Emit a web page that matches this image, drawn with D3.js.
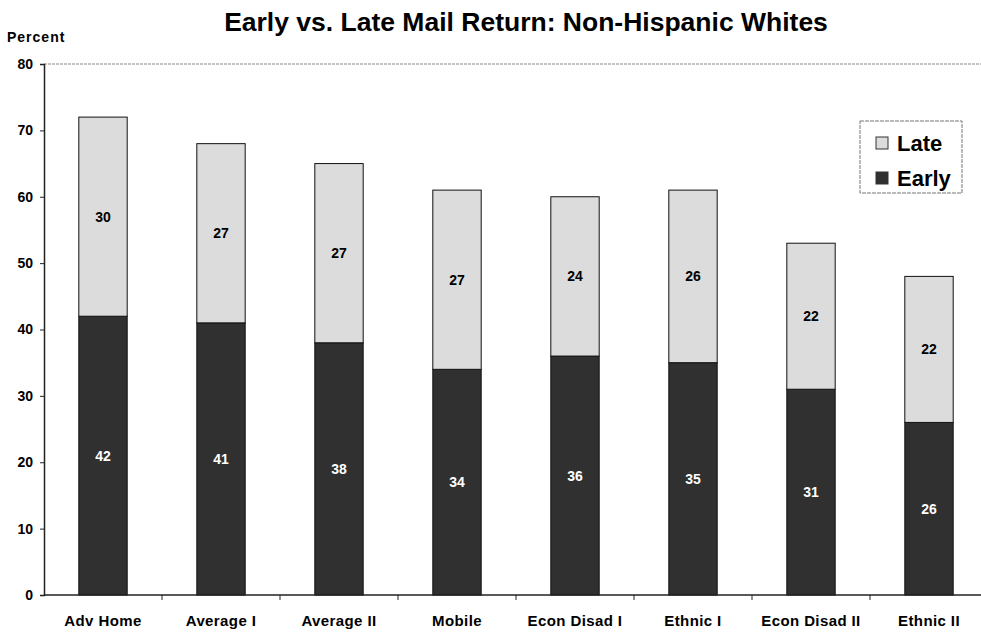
<!DOCTYPE html>
<html>
<head>
<meta charset="utf-8">
<script src="https://cdn.jsdelivr.net/npm/d3@7"></script>
<style>
  html, body { margin: 0; padding: 0; background: #fff; }
  svg { display: block; font-family: "Liberation Sans", Arial, sans-serif; }
</style>
</head>
<body>
<svg id="chart" width="981" height="634"></svg>
<script>
// Mail return rates (percent) by tract group
const categories = ["Adv Home", "Average I", "Average II", "Mobile", "Econ Disad I", "Ethnic I", "Econ Disad II", "Ethnic II"];
const early = [42, 41, 38, 34, 36, 35, 31, 26];
const late  = [30, 27, 27, 27, 24, 26, 22, 22];
const yTicks = [0, 10, 20, 30, 40, 50, 60, 70, 80];
const seriesNames = ["Early", "Late"];

const svg = d3.select("#chart");
const margin = { left: 44, top: 64, bottom: 595 };
const bandW = 118;

const x = d3.scaleBand()
  .domain(categories)
  .range([margin.left, margin.left + bandW * categories.length])
  .paddingInner(0.59)
  .paddingOuter(0.295);

const y = d3.scaleLinear().domain([0, 80]).range([margin.bottom, margin.top]);

const colors = { Early: "#303030", Late: "#dcdcdc" };

// Plot-area top border
svg.append("line")
  .attr("x1", margin.left).attr("x2", 981)
  .attr("y1", y(80)).attr("y2", y(80))
  .attr("stroke", "#8a8a8a").attr("stroke-width", 1.2)
  .attr("stroke-dasharray", "3,1");

// Stacked bars
const rows = categories.map((c, i) => ({ cat: c, Early: early[i], Late: late[i] }));
const stacked = d3.stack().keys(seriesNames)(rows);

const layers = svg.append("g").selectAll("g")
  .data(stacked).join("g")
  .attr("fill", d => colors[d.key]);

layers.selectAll("rect")
  .data(d => d.map(v => ({ key: d.key, v })))
  .join("rect")
  .attr("x", d => x(d.v.data.cat))
  .attr("width", x.bandwidth())
  .attr("y", d => y(d.v[1]))
  .attr("height", d => y(d.v[0]) - y(d.v[1]))
  .attr("stroke", "#111")
  .attr("stroke-width", 1);

// Segment value labels
layers.selectAll("text")
  .data(d => d.map(v => ({ key: d.key, v })))
  .join("text")
  .attr("x", d => x(d.v.data.cat) + x.bandwidth() / 2)
  .attr("y", d => y((d.v[0] + d.v[1]) / 2) + 5)
  .attr("text-anchor", "middle")
  .attr("font-size", 14)
  .attr("font-weight", "bold")
  .attr("fill", d => d.key === "Early" ? "#fff" : "#000")
  .text(d => d.v[1] - d.v[0]);

// Y axis
const yAxis = svg.append("g")
  .attr("transform", `translate(${margin.left},0)`)
  .call(d3.axisLeft(y).tickValues(yTicks).tickSize(4).tickPadding(7));
yAxis.select(".domain").attr("stroke", "#222").attr("stroke-width", 1.5);
yAxis.selectAll(".tick line").attr("stroke", "#222");
yAxis.selectAll("text")
  .attr("font-size", 14).attr("font-weight", "bold")
  .attr("font-family", "Liberation Sans, Arial, sans-serif").attr("fill", "#000");

// X axis: baseline with ticks between categories
const xAxisG = svg.append("g").attr("transform", `translate(0,${margin.bottom})`);
xAxisG.append("line")
  .attr("x1", margin.left).attr("x2", 981)
  .attr("stroke", "#222").attr("stroke-width", 1.5);
xAxisG.selectAll("line.sep")
  .data(categories.slice(1))
  .join("line")
  .attr("class", "sep")
  .attr("x1", d => x(d) - x.step() * x.paddingInner() / 2)
  .attr("x2", d => x(d) - x.step() * x.paddingInner() / 2)
  .attr("y1", 0).attr("y2", 5)
  .attr("stroke", "#222");
xAxisG.selectAll("text")
  .data(categories)
  .join("text")
  .attr("x", d => x(d) + x.bandwidth() / 2)
  .attr("y", 31)
  .attr("text-anchor", "middle")
  .attr("font-size", 15)
  .attr("font-weight", "bold")
  .attr("letter-spacing", 0.4)
  .text(d => d);

// Title and axis caption
svg.append("text")
  .attr("x", 526).attr("y", 31)
  .attr("text-anchor", "middle")
  .attr("font-size", 26.5).attr("font-weight", "bold")
  .text("Early vs. Late Mail Return: Non-Hispanic Whites");

svg.append("text")
  .attr("x", 7).attr("y", 42)
  .attr("font-size", 14).attr("font-weight", "bold")
  .attr("letter-spacing", 1)
  .text("Percent");

// Legend
const lg = svg.append("g").attr("transform", "translate(860,121)");
lg.append("rect")
  .attr("width", 102).attr("height", 72)
  .attr("fill", "#fff").attr("stroke", "#777").attr("stroke-width", 1)
  .attr("stroke-dasharray", "4,1");
const legendItems = ["Late", "Early"];
legendItems.forEach((k, i) => {
  const gy = 22 + i * 35;
  lg.append("rect")
    .attr("x", 16).attr("y", gy - 6).attr("width", 12).attr("height", 12)
    .attr("fill", colors[k]).attr("stroke", "#333");
  lg.append("text")
    .attr("x", 37).attr("y", gy + 8)
    .attr("font-size", 22).attr("font-weight", "bold")
    .text(k);
});
</script>
</body>
</html>
